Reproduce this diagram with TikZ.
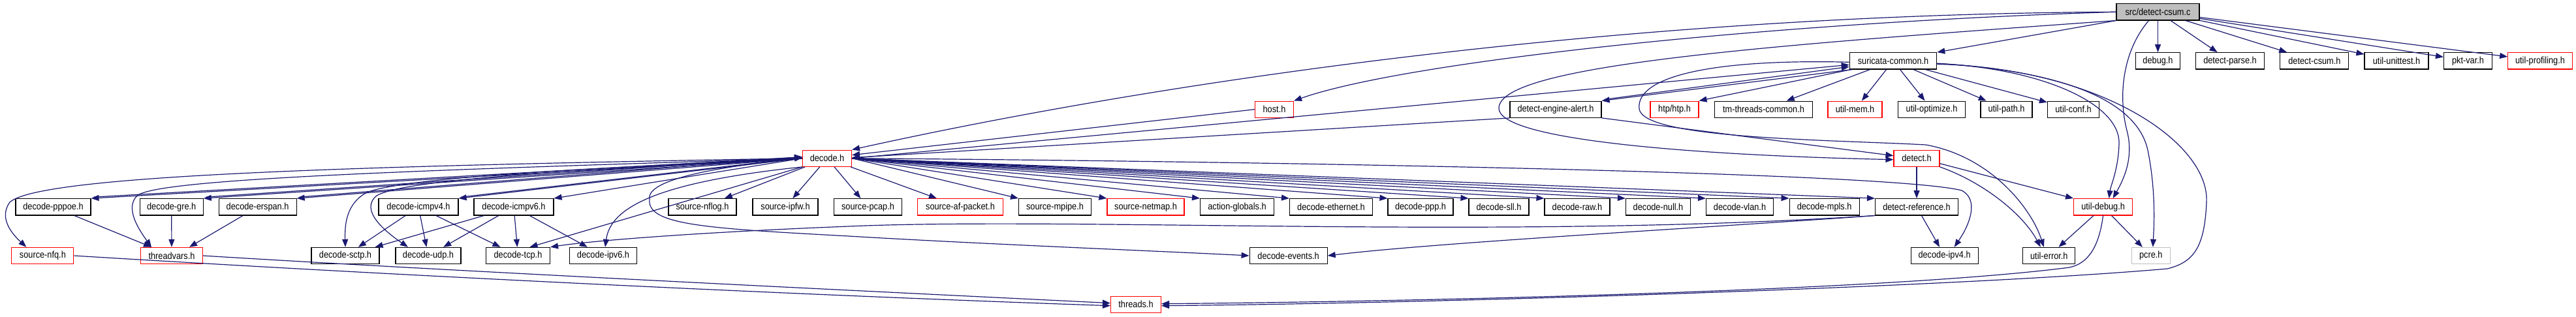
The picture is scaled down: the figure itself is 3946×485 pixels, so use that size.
\documentclass[tikz,border=0pt]{standalone}
\usepackage{fontspec}
\newfontfamily\nf[FakeStretch=0.88]{Liberation Sans}
\usetikzlibrary{arrows.meta}
\definecolor{eb}{HTML}{191970}
\definecolor{sg}{HTML}{BFBFBF}
\definecolor{rd}{HTML}{FF0000}
\tikzset{
  nb/.style={draw=black, line width=1.1pt, fill=white, minimum height=25.3pt, inner sep=0pt, text=black, font={\nf\fontsize{14.5}{16}\selectfont}},
  nr/.style={nb, draw=rd},
  ng/.style={nb, draw=sg},
  e/.style={draw=eb, line width=1.2pt, -{Triangle[length=12pt,width=9pt]}}
}
\begin{document}
\begin{tikzpicture}[x=1pt,y=-1pt]
\useasboundingbox (0,0) rectangle (3946,485);
% row 0
\node[nb, fill=sg, minimum width=127pt] (S) at (3305.5,18.3) {src/detect-csum.c};
% row 1
\node[nb, minimum width=133.5pt] (sc) at (2900,93.3) {suricata-common.h};
\node[nb, minimum width=68.5pt] (dbg) at (3305.5,93.3) {debug.h};
\node[nb, minimum width=105pt] (dparse) at (3416,93.3) {detect-parse.h};
\node[nb, minimum width=105pt] (dcsum) at (3545.4,93.3) {detect-csum.h};
\node[nb, minimum width=98pt] (uut) at (3671,93.3) {util-unittest.h};
\node[nb, minimum width=74pt] (pkv) at (3780.5,93.3) {pkt-var.h};
\node[nr, minimum width=98.6pt] (uprof) at (3891,93.3) {util-profiling.h};
% row 2
\node[nr, minimum width=59pt] (host) at (1952,167.7) {host.h};
\node[nb, minimum width=140pt] (dea) at (2383,167.7) {detect-engine-alert.h};
\node[nr, minimum width=74pt] (htp) at (2565,167.7) {htp/htp.h};
\node[nb, minimum width=149.5pt] (tmtc) at (2701.5,167.7) {tm-threads-common.h};
\node[nr, minimum width=83pt] (umem) at (2841.5,167.7) {util-mem.h};
\node[nb, minimum width=103pt] (uopt) at (2959,167.7) {util-optimize.h};
\node[nb, minimum width=79pt] (upath) at (3073.5,167.7) {util-path.h};
\node[nb, minimum width=79pt] (uconf) at (3176,167.7) {util-conf.h};
% row 3
\node[nr, minimum width=75pt] (dec) at (1267,242.7) {decode.h};
\node[nr, minimum width=70pt] (det) at (2936,242.7) {detect.h};
% row 4
\node[nb, minimum width=115pt] (pppoe) at (81.5,317.3) {decode-pppoe.h};
\node[nb, minimum width=97pt] (gre) at (262.7,317.3) {decode-gre.h};
\node[nb, minimum width=119pt] (erspan) at (394.6,317.3) {decode-erspan.h};
\node[nb, minimum width=122pt] (icmp4) at (641,317.3) {decode-icmpv4.h};
\node[nb, minimum width=122pt] (icmp6) at (787,317.3) {decode-icmpv6.h};
\node[nb, minimum width=104pt] (nflog) at (1076,317.3) {source-nflog.h};
\node[nb, minimum width=100pt] (ipfw) at (1203,317.3) {source-ipfw.h};
\node[nb, minimum width=104.5pt] (pcap) at (1329.5,317.3) {source-pcap.h};
\node[nr, minimum width=131pt] (afp) at (1471,317.3) {source-af-packet.h};
\node[nb, minimum width=111pt] (mpipe) at (1616,317.3) {source-mpipe.h};
\node[nr, minimum width=118pt] (netmap) at (1755,317.3) {source-netmap.h};
\node[nb, minimum width=113pt] (actg) at (1895,317.3) {action-globals.h};
\node[nb, minimum width=127pt] (eth) at (2039,317.3) {decode-ethernet.h};
\node[nb, minimum width=100pt] (ppp) at (2176,317.3) {decode-ppp.h};
\node[nb, minimum width=92pt] (sll) at (2296,317.3) {decode-sll.h};
\node[nb, minimum width=100pt] (raw) at (2416,317.3) {decode-raw.h};
\node[nb, minimum width=99pt] (null) at (2540,317.3) {decode-null.h};
\node[nb, minimum width=103pt] (vlan) at (2665,317.3) {decode-vlan.h};
\node[nb, minimum width=107pt] (mpls) at (2794.6,317.3) {decode-mpls.h};
\node[nb, minimum width=127pt] (dref) at (2936,317.3) {detect-reference.h};
\node[nr, minimum width=90pt] (udbg) at (3221.6,317.3) {util-debug.h};
% row 5
\node[nr, minimum width=95pt] (nfq) at (65.4,392) {source-nfq.h};
\node[nr, minimum width=95pt] (tv) at (263,392) {threadvars.h};
\node[nb, minimum width=104pt] (sctp) at (529,392) {decode-sctp.h};
\node[nb, minimum width=100pt] (udp) at (656,392) {decode-udp.h};
\node[nb, minimum width=98pt] (tcp) at (793.5,392) {decode-tcp.h};
\node[nb, minimum width=103pt] (ipv6) at (924,392) {decode-ipv6.h};
\node[nb, minimum width=119pt] (devt) at (1973.6,392) {decode-events.h};
\node[nb, minimum width=103pt] (ipv4) at (2978.6,392) {decode-ipv4.h};
\node[nb, minimum width=80pt] (uerr) at (3138.8,392) {util-error.h};
\node[ng, minimum width=58.6pt] (pcre) at (3294.8,392) {pcre.h};
% row 6
\node[nr, minimum width=77pt] (thr) at (1740,466.7) {threads.h};

% ---- edges from src/detect-csum.c
\draw[e] (S.south west) -- (sc.north east);
\draw[e] (S) -- (dbg);
\draw[e] (S) -- (dparse);
\draw[e] (S) -- (dcsum);
\draw[e] (S) -- (uut);
\draw[e] (S) -- (pkv);
\draw[e] (S) -- (uprof);
\draw[e] ([xshift=-14pt]S.south) .. controls (3250,80) and (3245,150) .. (3258,200) .. controls (3270,245) and (3250,280) .. ([xshift=15pt]udbg.north);
\draw[e] (S.west) .. controls (2500,22) and (1800,120) .. (dec.north east);
\draw[e] (S.west) .. controls (2700,35) and (2150,95) .. (host.north east);
\draw[e] (S.south west) .. controls (2700,70) and (2300,100) .. (2296,165) .. controls (2292,215) and (2600,238) .. ([yshift=-2pt]det.west);

% ---- suricata-common.h
\draw[e] ([xshift=5pt]sc.south west) -- (dea.north east);
\draw[e] ([xshift=4pt,yshift=2pt]dea.north east) -- ([yshift=-9pt]sc.west);
\draw[e] (sc) -- (htp.north east);
\draw[e] (sc) -- (tmtc);
\draw[e] (sc) -- (umem);
\draw[e] (sc) -- (uopt);
\draw[e] (sc) -- (upath);
\draw[e] (sc) -- (uconf);
\draw[e] ([yshift=-4pt]sc.east) .. controls (3130,105) and (3248,160) .. (3246,220) .. controls (3245,260) and (3233,285) .. ([xshift=9pt]udbg.north);
\draw[e] ([yshift=-4pt]sc.east) .. controls (3150,108) and (3272,150) .. (3290,230) .. controls (3302,290) and (3300,340) .. ([xshift=3pt]pcre.north);
\draw[e] ([yshift=-5pt]sc.east) .. controls (3220,105) and (3385,220) .. (3380,310) .. controls (3377,380) and (3360,402) .. (3320,412) .. controls (3000,440) and (2200,465) .. ([yshift=-2pt]thr.east);
\draw[e] ([yshift=-2pt]sc.west) .. controls (2620,90) and (2505,118) .. (2511,167) .. controls (2517,213) and (2800,214) .. (2950,222) .. controls (3050,240) and (3112,320) .. ([xshift=-8pt]uerr.north);

% ---- into decode.h from the right
\draw[e] (dec.east) -- ([yshift=-6pt]sc.west);
\draw[e] (host.west) -- ([yshift=5pt]dec.east);
\draw[e] (dea.south west) -- ([yshift=1pt]dec.east);
\draw[e] (dea.south east) -- ([yshift=4pt]det.west);

% ---- detect.h
\draw[e] (det) -- (dref);
\draw[e] (det.south east) .. controls (3040,280) and (3100,330) .. ([xshift=-13pt]uerr.north);
\draw[e] ([yshift=-8pt]det.east) -- (udbg.north west);

% ---- detect-reference.h
\draw[e] (dref) -- (ipv4);
\draw[e] (dref.south west) .. controls (2300,368) and (1650,332) .. (1300,347) .. controls (1050,357) and (900,370) .. (tcp.north east);
\draw[e] (dref.south west) .. controls (2600,350) and (2200,372) .. (devt.east);

% ---- decode.h to the left
\draw[e] (dec.west) .. controls (500,255) and (60,270) .. (15,310) .. controls (-3,335) and (20,360) .. ([xshift=-25pt]nfq.north);
\draw[e] (dec.west) -- (pppoe.north east);
\draw[e] ([xshift=4pt,yshift=2pt]pppoe.north east) -- ([yshift=2pt]dec.west);
\draw[e] (dec.west) -- (gre.north east);
\draw[e] ([xshift=4pt,yshift=2pt]gre.north east) -- ([yshift=2pt]dec.west);
\draw[e] (dec.west) -- (erspan.north east);
\draw[e] ([xshift=4pt,yshift=2pt]erspan.north east) -- ([yshift=2pt]dec.west);
\draw[e] (dec.west) -- (icmp4.north east);
\draw[e] ([xshift=4pt,yshift=2pt]icmp4.north east) -- ([yshift=1pt]dec.west);
\draw[e] (dec.west) -- (icmp6.north east);
\draw[e] (dec.west) .. controls (600,262) and (240,275) .. (210,300) .. controls (190,320) and (215,355) .. ([xshift=-31pt]tv.north);
\draw[e] (dec.west) .. controls (900,258) and (620,272) .. (562,295) .. controls (530,312) and (528,345) .. (sctp.north);
\draw[e] (dec.west) .. controls (900,260) and (620,274) .. (577,300) .. controls (550,322) and (590,355) .. ([xshift=-31pt]udp.north);
\draw[e] (dec.south west) -- ([xshift=18pt]tcp.north);
\draw[e] (dec.south west) .. controls (1000,280) and (935,320) .. ([xshift=3pt]ipv6.north);
\draw[e] (dec.west) .. controls (1100,255) and (990,275) .. (995,305) .. controls (990,345) and (1080,350) .. (1300,362) .. controls (1500,374) and (1800,386) .. (devt.west);

% ---- decode.h to the right
\draw[e] (dec) -- (nflog);
\draw[e] (dec) -- (ipfw);
\draw[e] (dec) -- (pcap);
\draw[e] (dec) -- (afp);
\draw[e] (dec.east) -- (mpipe.north west);
\draw[e] (dec.east) -- (netmap.north west);
\draw[e] (dec.east) -- (actg.north west);
\draw[e] (dec.east) -- (eth.north west);
\draw[e] (dec.east) -- (ppp.north west);
\draw[e] (dec.east) -- (sll.north west);
\draw[e] (dec.east) -- (raw.north west);
\draw[e] (dec.east) -- (null.north west);
\draw[e] (dec.east) -- (vlan.north west);
\draw[e] (dec.east) -- (mpls.north west);
\draw[e] (dec.east) -- (dref.north west);
\draw[e] (dec.east) .. controls (2000,248) and (2900,265) .. (3005,292) .. controls (3030,305) and (3020,340) .. ([xshift=15pt]ipv4.north);

% ---- row 4 to row 5
\draw[e] (pppoe) -- ([xshift=-31pt]tv.north);
\draw[e] (gre) -- (tv);
\draw[e] (erspan) -- ([xshift=27pt]tv.north);
\draw[e] (icmp4) -- (sctp);
\draw[e] (icmp4) -- (udp);
\draw[e] (icmp4) -- (tcp);
\draw[e] (icmp6) -- (sctp);
\draw[e] (icmp6) -- (udp);
\draw[e] (icmp6) -- (tcp);
\draw[e] (icmp6) -- (ipv6);
\draw[e] (udbg) -- (uerr);
\draw[e] (udbg) -- (pcre);

% ---- into threads.h
\draw[e] (nfq.east) .. controls (700,428) and (1300,455) .. ([yshift=-2pt]thr.west);
\draw[e] (tv.east) .. controls (700,416) and (1300,445) .. ([yshift=2pt]thr.west);
\draw[e] (udbg.south) .. controls (3215,380) and (3198,404) .. (3170,410) .. controls (2900,445) and (2200,462) .. ([yshift=1pt]thr.east);
\end{tikzpicture}
\end{document}
